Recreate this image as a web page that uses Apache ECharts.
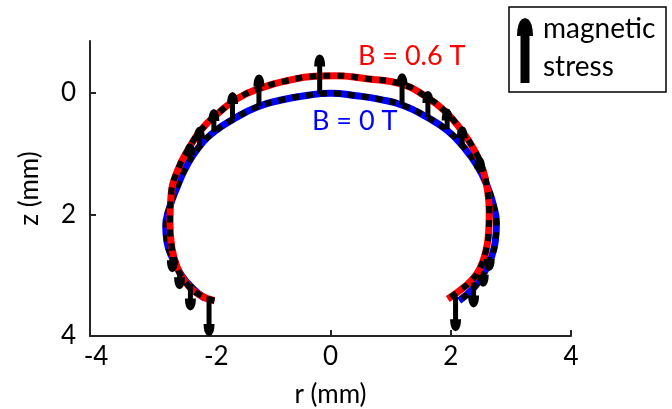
<!DOCTYPE html>
<html lang="en">
<head>
<meta charset="UTF-8">
<title>drop profile</title>
<style>
  html, body { margin: 0; padding: 0; background: #fff; }
  #chart { width: 672px; height: 409px; }
</style>
</head>
<body>
<div id="chart"></div>
<script src="https://cdn.jsdelivr.net/npm/echarts@6/dist/echarts.min.js"></script>
<script>
// tick values
var xTicks = [-4, -2, 0, 2, 4];
var yTicks = [0, 2, 4];

// drop profile at B = 0 T (r, z in mm)
var b0R = [-2.09, -2.30, -2.48, -2.62, -2.72, -2.74, -2.69, -2.55, -2.40, -2.20, -1.93, -1.59, -1.21, -0.82, -0.43, 0, 0.43, 0.82, 1.21, 1.60, 1.94, 2.22, 2.44, 2.60, 2.71, 2.76, 2.74, 2.67, 2.56, 2.39, 2.14];
var b0Z = [3.38, 3.21, 3.00, 2.74, 2.45, 2.20, 1.93, 1.55, 1.22, 0.91, 0.64, 0.42, 0.23, 0.12, 0.05, 0.01, 0.05, 0.11, 0.21, 0.40, 0.62, 0.90, 1.20, 1.52, 1.85, 2.15, 2.45, 2.72, 2.95, 3.20, 3.42];

// drop profile at B = 0.6 T
var b6R = [-1.93, -2.20, -2.43, -2.56, -2.64, -2.67, -2.65, -2.54, -2.37, -2.15, -1.87, -1.54, -1.15, -0.71, -0.27, 0.07, 0.60, 1.19, 1.58, 1.90, 2.17, 2.39, 2.53, 2.61, 2.64, 2.63, 2.58, 2.48, 2.34, 2.14, 1.95];
var b6Z = [3.42, 3.31, 3.09, 2.84, 2.54, 2.15, 1.66, 1.27, 0.94, 0.61, 0.34, 0.09, -0.08, -0.20, -0.27, -0.28, -0.23, -0.14, 0.06, 0.30, 0.61, 0.94, 1.25, 1.60, 1.95, 2.30, 2.62, 2.90, 3.09, 3.26, 3.39];

// magnetic stress arrows: position r, start z, tip z
var arrowR    = [-2.34, -2.18, -1.94, -1.63, -1.19, -0.18, 1.19, 1.62, 1.94, 2.19, 2.48, -2.63, -2.51, -2.33, -2.02, 2.08, 2.38, 2.54, 2.64];
var arrowFrom = [1.12, 0.89, 0.65, 0.44, 0.22, 0.02, 0.20, 0.40, 0.60, 0.87, 1.30, 2.70, 2.95, 3.15, 3.35, 3.35, 3.12, 2.95, 2.70];
var arrowTo   = [0.83, 0.56, 0.27, -0.01, -0.30, -0.63, -0.32, -0.03, 0.26, 0.55, 1.05, 2.95, 3.23, 3.58, 4.00, 3.92, 3.53, 3.19, 2.93];

function zip(a, b) {
  return a.map(function (v, i) { return [v, b[i]]; });
}

// bullet-headed arrow as polygon points (pixels)
function arrowShape(x, y0, y1, sw, hw, hl) {
  var dir = y1 < y0 ? -1 : 1;
  var h = Math.min(hl, Math.abs(y1 - y0));
  var neck = y1 - dir * h;
  var prof = [[0, 1], [0.35, 0.95], [0.6, 0.84], [0.8, 0.64], [0.93, 0.4], [1, 0]];
  var pts = [[x - sw, y0], [x - sw, neck]];
  prof.forEach(function (p) { pts.push([x - hw * p[1], neck + dir * h * p[0]]); });
  for (var i = prof.length - 2; i >= 0; i--) {
    pts.push([x + hw * prof[i][1], neck + dir * h * prof[i][0]]);
  }
  pts.push([x + sw, neck], [x + sw, y0]);
  return pts;
}

var font = 'Lato';
var axisColor = '#262626';

var chart = echarts.init(document.getElementById('chart'));

var option = {
  animation: false,
  grid: { left: 90, right: 101, top: 41, bottom: 73, outerBoundsMode: 'none' },
  xAxis: {
    type: 'value', min: -4, max: 4, interval: 2,
    name: 'r (mm)', nameLocation: 'middle', nameGap: 46,
    nameTextStyle: { fontFamily: font, fontSize: 26, color: '#000' },
    axisLine: { onZero: false, lineStyle: { color: axisColor, width: 2 } },
    axisTick: { inside: true, length: 6, lineStyle: { color: axisColor, width: 2 } },
    axisLabel: {
      margin: 8, fontFamily: font, fontSize: 26, color: '#000',
      formatter: function (v) { return v < 0 ? '{n|' + v + '}' : '' + v; },
      rich: { n: { fontFamily: font, fontSize: 26, color: '#000', padding: [0, 0, 0, 12] } }
    },
    splitLine: { show: false }
  },
  yAxis: {
    type: 'value', min: -0.85, max: 4, inverse: true,
    name: 'z (mm)', nameLocation: 'middle', nameGap: 47,
    nameTextStyle: { fontFamily: font, fontSize: 26, color: '#000' },
    axisLine: { onZero: false, lineStyle: { color: axisColor, width: 2 } },
    axisTick: { inside: true, length: 6, customValues: yTicks, lineStyle: { color: axisColor, width: 2 } },
    axisLabel: { margin: 14, fontFamily: font, fontSize: 26, color: '#000', customValues: yTicks },
    splitLine: { show: false }
  },
  series: [
    {
      type: 'line', data: zip(b0R, b0Z), smooth: 0.5, showSymbol: false,
      lineStyle: { color: '#0000ff', width: 7 }, z: 2
    },
    {
      type: 'line', data: zip(b0R, b0Z), smooth: 0.5, showSymbol: false,
      lineStyle: { color: '#000', width: 6, type: [7, 7] }, z: 3
    },
    {
      type: 'line', data: zip(b6R, b6Z), smooth: 0.5, showSymbol: false,
      lineStyle: { color: '#ff0000', width: 7 }, z: 4
    },
    {
      type: 'line', data: zip(b6R, b6Z), smooth: 0.5, showSymbol: false,
      lineStyle: { color: '#000', width: 6, type: [7, 7] }, z: 5
    },
    {
      type: 'custom', z: 6,
      data: arrowR.map(function (r, i) { return [r, arrowFrom[i], arrowTo[i]]; }),
      encode: { x: 0, y: [1, 2] },
      renderItem: function (params, api) {
        var a = api.coord([api.value(0), api.value(1)]);
        var b = api.coord([api.value(0), api.value(2)]);
        return {
          type: 'polygon',
          shape: { points: arrowShape(a[0], a[1], b[1], 2.5, 5.5, 12) },
          style: { fill: '#000' }
        };
      }
    }
  ],
  graphic: [
    { type: 'text', left: 358, top: 43, style: { text: 'B = 0.6 T', fill: '#ff0000', font: '27px Lato' } },
    { type: 'text', left: 312, top: 108, style: { text: 'B = 0 T', fill: '#0000ff', font: '27px Lato' } },
    { type: 'rect', shape: { x: 509, y: 7, width: 157, height: 85 }, style: { fill: '#fff', stroke: '#000', lineWidth: 1.5 } },
    { type: 'polygon', shape: { points: arrowShape(525, 83, 18, 4.5, 8, 18) }, style: { fill: '#000' } },
    { type: 'text', x: 543, y: 29, style: { text: 'magnetic', fill: '#000', font: '28px Lato', verticalAlign: 'middle' } },
    { type: 'text', x: 543, y: 67, style: { text: 'stress', fill: '#000', font: '28px Lato', verticalAlign: 'middle' } }
  ]
};

chart.setOption(option);
</script>
</body>
</html>
